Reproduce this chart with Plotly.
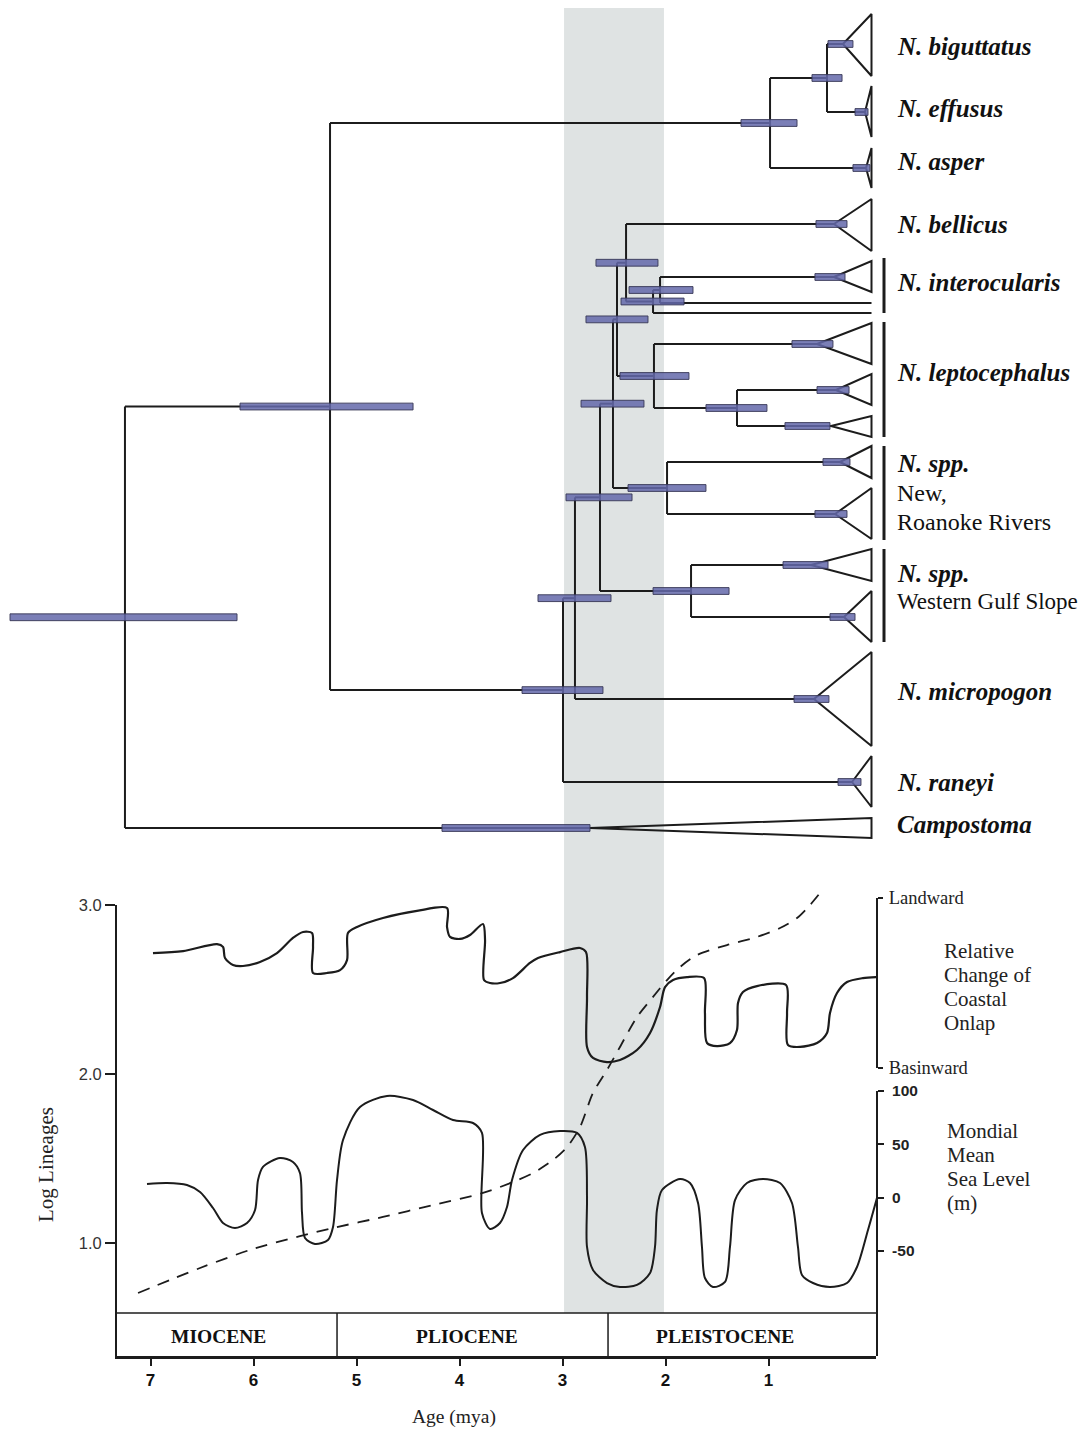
import plotly.graph_objects as go

# ---------------- DATA ----------------
# Tips (top to bottom): crown age of collapsed clade, 95% HPD of crown age (older, younger)
tip_names = ["biguttatus", "effusus", "asper", "bellicus", "interocularis", "interoc_a", "interoc_b",
             "lepto1", "lepto2", "lepto3", "nr1", "nr2", "wg1", "wg2", "micropogon", "raneyi", "Campostoma"]
tip_crown_age = [0.277, 0.063, 0.053, 0.364, 0.364, None, None,
                 0.529, 0.345, 0.393, 0.306, 0.354, 0.587, 0.267, 0.558, 0.189, 2.733]
tip_hpd_old = [0.422, 0.160, 0.180, 0.539, 0.549, None, None,
               0.772, 0.529, 0.840, 0.471, 0.549, 0.859, 0.403, 0.752, 0.325, 4.170]
tip_hpd_young = [0.180, 0.034, 0.015, 0.238, 0.257, None, None,
                 0.374, 0.218, 0.403, 0.209, 0.238, 0.422, 0.160, 0.413, 0.102, 2.733]

# Internal nodes: name, children, age (mya), HPD old, HPD young
node_names = ["BE", "AS", "F", "E", "D", "L2", "L1", "G", "NR", "H", "WG", "C", "B", "A", "N1", "ROOT"]
node_children = [["biguttatus", "effusus"], ["BE", "asper"], ["interocularis", "interoc_a"], ["F", "interoc_b"],
                 ["bellicus", "E"], ["lepto2", "lepto3"], ["lepto1", "L2"], ["D", "L1"], ["nr1", "nr2"],
                 ["G", "NR"], ["wg1", "wg2"], ["H", "WG"], ["C", "micropogon"], ["B", "raneyi"],
                 ["AS", "A"], ["N1", "Campostoma"]]
node_age = [0.432, 0.985, 2.053, 2.121, 2.383, 1.306, 2.112, 2.471, 1.985, 2.510, 1.752, 2.636, 2.879, 2.995, 5.257, 7.248]
node_hpd_old = [0.578, 1.267, 2.354, 2.432, 2.675, 1.607, 2.442, 2.772, 2.364, 2.820, 2.121, 2.966, 3.238, 3.393, 6.131, 8.364]
node_hpd_young = [0.286, 0.723, 1.733, 1.820, 2.073, 1.015, 1.772, 2.170, 1.607, 2.209, 1.383, 2.325, 2.529, 2.607, 4.451, 6.160]

# Lineages through time (age mya, log lineages)
ltt_age = [7.121, 6.519, 6.034, 5.549, 5.228, 4.743, 4.257, 3.772, 3.481, 3.286, 3.092, 2.956, 2.830,
           2.704, 2.568, 2.442, 2.277, 2.121, 1.985, 1.859, 1.694, 1.403, 1.112, 0.888, 0.723, 0.597, 0.500]
ltt_val = [0.704, 0.852, 0.959, 1.041, 1.089, 1.154, 1.225, 1.296, 1.361, 1.414, 1.491, 1.568, 1.686,
           1.888, 2.024, 2.160, 2.337, 2.456, 2.556, 2.633, 2.704, 2.763, 2.811, 2.864, 2.923, 3.000, 3.071]

# Relative change of coastal onlap (0 = basinward, 1 = landward)
onlap_age = [6.976, 6.684, 6.354, 6.296, 6.277, 6.199, 6.102, 5.937, 5.772, 5.617, 5.519, 5.432, 5.422, 5.422,
             5.286, 5.160, 5.092, 5.083, 4.995, 4.743, 4.413, 4.121, 4.121, 4.092, 3.995, 3.898, 3.772, 3.752,
             3.762, 3.704, 3.607, 3.481, 3.316, 3.238, 3.024, 2.830, 2.772, 2.762, 2.762, 2.704, 2.568, 2.442,
             2.277, 2.150, 2.053, 2.005, 1.927, 1.791, 1.626, 1.617, 1.597, 1.500, 1.374, 1.306, 1.296, 1.248,
             1.112, 0.830, 0.820, 0.811, 0.694, 0.529, 0.432, 0.403, 0.335, 0.238, 0.083, -0.053]
onlap_val = [0.676, 0.688, 0.729, 0.712, 0.647, 0.606, 0.600, 0.624, 0.676, 0.765, 0.800, 0.794, 0.712, 0.559,
             0.559, 0.576, 0.635, 0.794, 0.829, 0.882, 0.924, 0.941, 0.829, 0.771, 0.759, 0.782, 0.847, 0.753,
             0.518, 0.500, 0.500, 0.529, 0.618, 0.647, 0.682, 0.706, 0.682, 0.418, 0.124, 0.059, 0.035, 0.047,
             0.106, 0.206, 0.359, 0.476, 0.518, 0.535, 0.529, 0.324, 0.147, 0.129, 0.147, 0.224, 0.382, 0.447,
             0.482, 0.488, 0.324, 0.135, 0.124, 0.147, 0.206, 0.324, 0.441, 0.506, 0.529, 0.535]

# Mondial mean sea level (m)
sea_age = [7.034, 6.840, 6.646, 6.519, 6.393, 6.296, 6.180, 6.063, 5.985, 5.956, 5.908, 5.743, 5.617, 5.549,
           5.529, 5.500, 5.403, 5.277, 5.228, 5.189, 5.131, 4.966, 4.704, 4.451, 4.257, 4.063, 3.869, 3.782,
           3.782, 3.704, 3.607, 3.539, 3.490, 3.383, 3.218, 3.024, 2.859, 2.782, 2.762, 2.762, 2.704, 2.568,
           2.442, 2.277, 2.150, 2.102, 2.083, 2.034, 1.859, 1.762, 1.684, 1.646, 1.617, 1.539, 1.422, 1.374,
           1.325, 1.209, 1.053, 0.888, 0.772, 0.714, 0.675, 0.568, 0.403, 0.238, 0.141, 0.034, -0.053]
sea_val = [12.8, 13.8, 11.9, 5.3, -9.7, -23.7, -28.4, -23.7, -11.5, 16.6, 28.8, 37.2, 33.5, 23.2,
           -14.3, -37.8, -43.4, -39.7, -27.5, 16.6, 54.1, 85.0, 95.3, 91.6, 82.2, 72.8, 70.0, 60.7,
           -14.3, -29.3, -23.7, -8.7, 16.6, 44.7, 58.8, 62.5, 60.7, 47.5, 0.7, -46.2, -67.8, -80.0,
           -83.7, -81.8, -70.6, -46.2, -11.5, 7.2, 17.5, 13.8, -5.0, -46.2, -75.3, -83.7, -79.0, -46.2,
           -2.2, 13.8, 17.5, 13.8, -5.0, -46.2, -72.5, -80.0, -83.7, -80.0, -65.0, -30.3, -0.3]

epoch_names = ["MIOCENE", "PLIOCENE", "PLEISTOCENE"]
epoch_bounds = [5.189, 2.558]
x_ticks = [7, 6, 5, 4, 3, 2, 1]
shade_band = (2.985, 2.015)

# ---------------- LAYOUT HELPERS ----------------
OFF = 8                      # page body margin of the browser
W, H = 1091 - OFF, 1429 - OFF
PX0 = 871.5                  # screen pixel of age 0
PPA = 103.0                  # pixels per mya
def age_at(px):
    return (PX0 - px) / PPA
def pap(py):
    return (H - (py - OFF)) / H
def pax(px):
    return (px - OFF) / W

# tree vertical slots (tree-panel rows), and triangle extents
tip_row = [44, 112, 168, 224, 277, 303, 313, 344, 390, 426, 462, 514, 565, 617, 699, 782, 828]
tri_top = [14, 86, 148, 199, 261, None, None, 323, 374, 416, 446, 488, 549, 591, 652, 756, 818]
tri_bot = [76, 137, 188, 251, 292, None, None, 364, 405, 437, 478, 539, 581, 642, 746, 807, 838]

# ---------------- TREE GEOMETRY ----------------
pos = {}
age = {}
for i, n in enumerate(tip_names):
    pos[n] = tip_row[i]
    age[n] = tip_crown_age[i] if tip_crown_age[i] is not None else 0.0
for n, c, a in zip(node_names, node_children, node_age):
    pos[n] = (pos[c[0]] + pos[c[-1]]) / 2.0
    age[n] = a

lx, ly = [], []
for n, c, a in zip(node_names, node_children, node_age):
    lx += [a, a, None]
    ly += [pos[c[0]], pos[c[-1]], None]
    for ch in c:
        lx += [a, age[ch], None]
        ly += [pos[ch], pos[ch], None]

tx, ty = [], []
for i, n in enumerate(tip_names):
    if tri_top[i] is None:
        continue
    a = tip_crown_age[i]
    tx += [a, 0.0, 0.0, a, None]
    ty += [tip_row[i], tri_top[i], tri_bot[i], tip_row[i], None]

fig = go.Figure()
ink = "#1c1c1c"
fig.add_trace(go.Scatter(x=lx, y=ly, mode="lines", line=dict(color=ink, width=2), hoverinfo="skip",
                         xaxis="x", yaxis="y"))
fig.add_trace(go.Scatter(x=tx, y=ty, mode="lines", line=dict(color=ink, width=2), hoverinfo="skip",
                         xaxis="x", yaxis="y"))

shapes = []
# shaded interval
shapes.append(dict(type="rect", xref="x", yref="paper", x0=shade_band[0], x1=shade_band[1],
                   y0=pap(1313), y1=pap(8), fillcolor="rgb(223,227,227)", line=dict(width=0), layer="below"))
# HPD bars
bh = 3.4
bar_fill = "rgba(100,104,170,0.85)"
bar_line = "rgba(55,55,85,0.9)"
for n, o, y_ in zip(node_names, node_hpd_old, node_hpd_young):
    shapes.append(dict(type="rect", xref="x", yref="y", x0=o, x1=y_, y0=pos[n] - bh, y1=pos[n] + bh,
                       fillcolor=bar_fill, line=dict(color=bar_line, width=1)))
for i, n in enumerate(tip_names):
    if tip_hpd_old[i] is None:
        continue
    shapes.append(dict(type="rect", xref="x", yref="y", x0=tip_hpd_old[i], x1=tip_hpd_young[i],
                       y0=tip_row[i] - bh, y1=tip_row[i] + bh,
                       fillcolor=bar_fill, line=dict(color=bar_line, width=1)))
# clade group bars
for (y0, y1) in [(258, 313), (322, 437), (446, 540), (549, 642)]:
    shapes.append(dict(type="line", xref="x", yref="y", x0=age_at(884), x1=age_at(884), y0=y0, y1=y1,
                       line=dict(color=ink, width=3)))
# epoch box
shapes.append(dict(type="line", xref="x", yref="paper", x0=age_at(117), x1=age_at(876),
                   y0=pap(1313), y1=pap(1313), line=dict(color=ink, width=1.5)))
for b in epoch_bounds:
    shapes.append(dict(type="line", xref="x", yref="paper", x0=b, x1=b,
                       y0=pap(1313), y1=pap(1356), line=dict(color=ink, width=1.5)))

# ---------------- BOTTOM CURVES ----------------
fig.add_trace(go.Scatter(x=[None], y=[None], mode="lines", xaxis="x2", yaxis="y2", hoverinfo="skip"))
fig.add_trace(go.Scatter(x=onlap_age, y=onlap_val, mode="lines", line=dict(color=ink, width=2.2, shape="spline", smoothing=0.8),
                         xaxis="x2", yaxis="y4", hoverinfo="skip"))
fig.add_trace(go.Scatter(x=sea_age, y=sea_val, mode="lines", line=dict(color=ink, width=2.0, shape="spline", smoothing=0.8),
                         xaxis="x2", yaxis="y3", hoverinfo="skip"))
fig.add_trace(go.Scatter(x=ltt_age, y=ltt_val, mode="lines", line=dict(color=ink, width=1.8, dash="12px,9px", shape="spline", smoothing=0.8),
                         xaxis="x2", yaxis="y5", hoverinfo="skip"))

# ---------------- TEXT ----------------
ann = []
def label(text, py, size=25, px=895, bold_italic=True):
    t = "<b><i>%s</i></b>" % text if bold_italic else text
    ann.append(dict(x=age_at(px), y=py, xref="x", yref="y", text=t, showarrow=False, xanchor="left",
                    yanchor="middle", font=dict(family="Liberation Serif", size=size, color="#111")))
label("N. biguttatus", 46)
label("N. effusus", 108)
label("N. asper", 161)
label("N. bellicus", 224)
label("N. interocularis", 282)
label("N. leptocephalus", 372)
label("N. spp.", 463)
label("New,", 493, size=24, bold_italic=False)
label("Roanoke Rivers", 522, size=24, bold_italic=False)
label("N. spp.", 573)
label("Western Gulf Slope", 601, size=23, bold_italic=False)
label("N. micropogon", 691)
label("N. raneyi", 782)
label("Campostoma", 824)

def side_text(lines, px, ys, size=21):
    for t, yy in zip(lines, ys):
        ann.append(dict(x=age_at(px), y=pap(yy), xref="x", yref="paper", xanchor="left", yanchor="middle",
                        text=t, showarrow=False, font=dict(family="Liberation Serif", size=size, color="#222")))
side_text(["Relative", "Change of", "Coastal", "Onlap"], 942, [951, 975, 999, 1023])
side_text(["Mondial", "Mean", "Sea Level", "(m)"], 945, [1131, 1155, 1179, 1203])

ann.append(dict(x=age_at(46), y=pap(1165), xref="x", yref="paper", text="Log Lineages", textangle=-90,
                xanchor="center", yanchor="middle",
                showarrow=False, font=dict(family="Liberation Serif", size=21, color="#222")))
ann.append(dict(x=age_at(454), y=pap(1417), xref="x", yref="paper", text="Age (mya)",
                xanchor="center", yanchor="middle",
                showarrow=False, font=dict(family="Liberation Serif", size=19.5, color="#222")))
for name, cx in zip(epoch_names, [218, 467, 725]):
    ann.append(dict(x=age_at(cx), y=pap(1336), xref="x", yref="paper", text="<b>%s</b>" % name,
                    xanchor="center", yanchor="middle",
                    showarrow=False, font=dict(family="Liberation Serif", size=19.5, color="#111")))

fig.update_layout(
    width=W, height=H, margin=dict(l=0, r=0, t=0, b=0, autoexpand=False),
    paper_bgcolor="white", plot_bgcolor="rgba(0,0,0,0)", showlegend=False,
    shapes=shapes, annotations=ann,
    xaxis=dict(domain=[0, 1], range=[age_at(OFF), age_at(OFF + W)], visible=False, automargin=False),
    yaxis=dict(domain=[0, 1], range=[OFF + H, OFF], visible=False, automargin=False),
    xaxis2=dict(domain=[pax(117), pax(876)], range=[age_at(117), age_at(876)], anchor="y2",
                showline=True, linewidth=2.5, linecolor=ink, ticks="outside", ticklen=7, tickwidth=2,
                tickcolor=ink, tickvals=x_ticks, ticktext=["<b>%d</b>" % v for v in x_ticks],
                tickfont=dict(family="Liberation Sans", size=17, color="#111"),
                showgrid=False, zeroline=False, automargin=False),
    yaxis2=dict(domain=[pap(1356), pap(905)], range=[3 - (1356 - 905) / 169, 3.0], anchor="x2",
                showline=True, linewidth=2, linecolor=ink, ticks="outside", ticklen=10, tickwidth=2,
                tickcolor=ink, tickvals=[1, 2, 3], ticktext=["1.0", "2.0", "3.0"],
                tickfont=dict(family="Liberation Sans", size=16.5, color="#333"),
                showgrid=False, zeroline=False, automargin=False),
    yaxis3=dict(domain=[pap(1356), pap(1091)], range=[(1197.7 - 1356) / 1.0667, 100], anchor="x2",
                side="right", showline=True, linewidth=2, linecolor=ink, ticks="outside", ticklen=6,
                tickwidth=2, tickcolor=ink, tickvals=[100, 50, 0, -50],
                ticktext=["<b>100</b>", "<b>50</b>", "<b>0</b>", "<b>-50</b>"],
                tickfont=dict(family="Liberation Sans", size=15.5, color="#222"), ticklabelstandoff=5,
                showgrid=False, zeroline=False, automargin=False),
    yaxis4=dict(domain=[pap(1068), pap(898)], range=[0, 1], anchor="x2", side="right",
                showline=True, linewidth=2, linecolor=ink, ticks="outside", ticklen=5, tickwidth=2,
                tickcolor=ink, tickvals=[0, 1], ticktext=["Basinward", "Landward"],
                tickfont=dict(family="Liberation Serif", size=18.5, color="#222"), ticklabelstandoff=2,
                showgrid=False, zeroline=False, automargin=False),
    yaxis5=dict(domain=[pap(1356), pap(880)], range=[3 - (1356 - 905) / 169, 3 + 25 / 169],
                anchor="x2", visible=False, automargin=False),
)

fig.write_html("out.html")
